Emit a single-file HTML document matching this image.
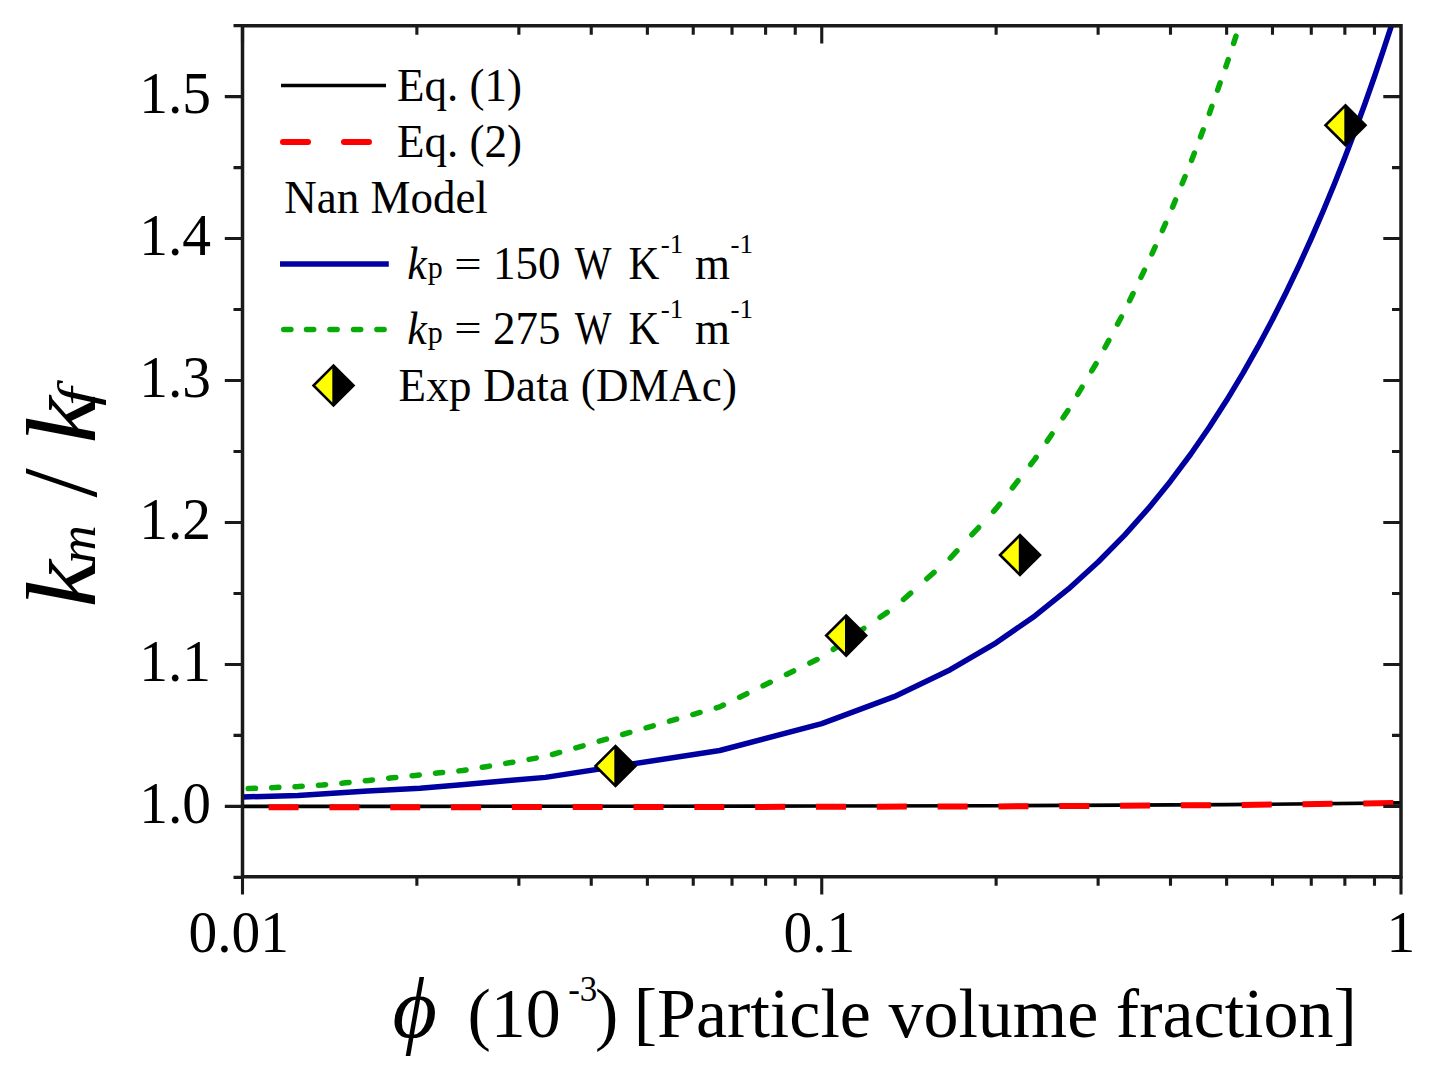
<!DOCTYPE html><html><head><meta charset="utf-8"><style>html,body{margin:0;padding:0;background:#fff;width:1442px;height:1083px;overflow:hidden;position:relative}</style></head><body><svg width="1442" height="1083" viewBox="0 0 1442 1083" style="position:absolute;left:0;top:0;font-family:'Liberation Serif',serif">
<defs><clipPath id="pa"><rect x="242.5" y="25.8" width="1158.5" height="851.0"/></clipPath></defs>
<g clip-path="url(#pa)" fill="none">
<polyline points="242.50,806.36 416.87,806.33 647.38,806.22 821.75,806.05 996.12,805.69 1226.63,804.63 1401.00,802.85" stroke="#000" stroke-width="3.6"/>
<polyline points="242.50,807.21 416.87,807.17 647.38,807.04 821.75,806.83 996.12,806.40 1226.63,805.12 1401.00,802.99" stroke="#ff0000" stroke-width="6" stroke-dasharray="30 30.82" stroke-dashoffset="34.72"/>
<polyline points="242.50,796.90 298.00,795.60 367.70,791.10 420.00,788.30 464.40,784.40 508.80,780.50 545.38,777.38 719.75,750.47 821.75,723.57 894.12,696.66 950.26,669.74 996.12,642.82 1034.90,615.90 1068.49,588.97 1098.12,562.04 1124.63,535.10 1148.60,508.16 1170.49,481.21 1190.63,454.26 1209.27,427.31 1226.63,400.35 1242.86,373.39 1258.12,346.42 1272.49,319.45 1286.10,292.47 1299.00,265.49 1311.27,238.50 1322.98,211.51 1334.16,184.52 1344.86,157.52 1355.13,130.51 1365.00,103.51 1374.49,76.49 1383.64,49.48 1392.47,22.46 1401.00,-4.57" stroke="#0000a0" stroke-width="5.5" stroke-linejoin="round"/>
<path d="M248.25 788.57L255.45 788.29M271.65 787.65L278.85 787.37M295.05 786.73L298.30 786.60L302.25 786.34M318.45 785.25L322.20 785.00L325.65 784.67M341.85 783.14L345.50 782.80L349.05 782.45M365.25 780.85L368.80 780.50L372.45 780.08M388.65 778.20L392.10 777.80L395.85 777.43M412.05 775.83L415.40 775.50L419.25 775.07M435.45 773.24L439.40 772.80L442.65 772.48M458.85 770.88L462.70 770.50L466.05 769.95M482.25 767.31L486.00 766.70L489.45 766.12M505.65 763.41L509.30 762.80L512.85 762.18M529.05 759.35L536.25 758.09M552.45 754.49L559.65 752.44M575.85 747.83L583.05 745.78M599.25 741.16L606.45 739.11M622.65 734.50L629.85 732.45M646.05 727.84L653.25 725.79M669.45 721.18L676.65 719.13M692.85 714.52L700.05 712.47M716.25 707.86L719.75 706.86L723.45 705.06M739.65 697.18L746.85 693.68M763.05 685.80L770.25 682.30M786.45 674.42L793.65 670.92M809.85 663.04L817.05 659.54M833.25 649.37L840.45 644.44M856.65 633.34L863.85 628.41M880.05 617.31L887.25 612.38M903.45 599.44L910.65 593.09M926.85 578.79L934.05 572.43M950.25 558.14L950.26 558.13L956.92 550.94M971.93 534.74L978.60 527.54M993.60 511.34L996.12 508.62L999.63 504.14M1012.33 487.94L1017.97 480.74M1030.67 464.54L1034.90 459.14L1036.12 457.34M1047.13 441.14L1052.02 433.94M1063.03 417.74L1067.92 410.54M1077.70 394.34L1082.02 387.14M1091.73 370.94L1096.05 363.74M1104.96 347.54L1108.82 340.34M1117.52 324.14L1121.38 316.94M1129.56 300.74L1133.06 293.54M1140.93 277.34L1144.43 270.14M1151.98 253.94L1155.17 246.74M1162.36 230.54L1165.56 223.34M1172.57 207.14L1175.51 199.94M1182.13 183.74L1185.07 176.54M1191.61 160.34L1194.34 153.14M1200.47 136.94L1203.19 129.74M1209.32 113.54L1211.86 106.34M1217.57 90.14L1220.11 82.94M1225.82 66.74L1226.63 64.45L1228.25 59.54M1233.60 43.34L1235.97 36.14M1241.32 19.94L1242.86 15.26L1243.65 12.74M1248.67 -3.46L1250.91 -10.66M1255.93 -26.86L1258.12 -33.90L1258.16 -34.06M1262.91 -50.26L1265.01 -57.46M1269.75 -73.66L1271.86 -80.86M1276.38 -97.06L1278.38 -104.26M1282.87 -120.46L1284.86 -127.66M1289.18 -143.86L1291.08 -151.06M1295.34 -167.26L1297.23 -174.46M1301.37 -190.66L1303.17 -197.86M1307.23 -214.06L1309.03 -221.26M1313.00 -237.46L1314.72 -244.66M1318.59 -260.86L1320.31 -268.06M1324.13 -284.26L1325.77 -291.46M1329.47 -307.66L1331.12 -314.86M1334.79 -331.06L1336.36 -338.26M1339.91 -354.46L1341.48 -361.66M1345.02 -377.86L1346.53 -385.06M1349.94 -401.26L1351.45 -408.46M1354.85 -424.66L1355.13 -426.02L1356.31 -431.86M1359.58 -448.06L1361.04 -455.26M1364.31 -471.46L1365.00 -474.89L1365.73 -478.66M1368.88 -494.86L1370.28 -502.06M1373.43 -518.26L1374.49 -523.73L1374.82 -525.46M1377.86 -541.66L1379.21 -548.86M1382.24 -565.06L1383.59 -572.26M1386.53 -588.46L1387.83 -595.66M1390.76 -611.86L1392.06 -619.06M1394.91 -635.26L1396.17 -642.46M1399.01 -658.66L1400.27 -665.86" stroke="#08aa08" stroke-width="5.5" stroke-linecap="round" stroke-linejoin="round"/>
</g>
<g stroke="#1a1a1a" stroke-width="3.5" fill="none" stroke-linecap="butt">
<path d="M242.5 24.05V878.55M1401.0 24.05V878.55M240.75 25.8H1402.75M240.75 876.8H1402.75"/>
<path d="M233.5 877.38H242.5M1392.0 877.38H1401.0M224.8 806.40H242.5M1383.3 806.40H1401.0M233.5 735.42H242.5M1392.0 735.42H1401.0M224.8 664.44H242.5M1383.3 664.44H1401.0M233.5 593.46H242.5M1392.0 593.46H1401.0M224.8 522.48H242.5M1383.3 522.48H1401.0M233.5 451.50H242.5M1392.0 451.50H1401.0M224.8 380.52H242.5M1383.3 380.52H1401.0M233.5 309.54H242.5M1392.0 309.54H1401.0M224.8 238.56H242.5M1383.3 238.56H1401.0M233.5 167.58H242.5M1392.0 167.58H1401.0M224.8 96.60H242.5M1383.3 96.60H1401.0M233.5 25.62H242.5M1392.0 25.62H1401.0M242.50 876.8V894.5M242.50 25.8V43.5M416.87 876.8V885.8M416.87 25.8V34.8M518.87 876.8V885.8M518.87 25.8V34.8M591.24 876.8V885.8M591.24 25.8V34.8M647.38 876.8V885.8M647.38 25.8V34.8M693.24 876.8V885.8M693.24 25.8V34.8M732.02 876.8V885.8M732.02 25.8V34.8M765.61 876.8V885.8M765.61 25.8V34.8M795.24 876.8V885.8M795.24 25.8V34.8M821.75 876.8V894.5M821.75 25.8V43.5M996.12 876.8V885.8M996.12 25.8V34.8M1098.12 876.8V885.8M1098.12 25.8V34.8M1170.49 876.8V885.8M1170.49 25.8V34.8M1226.63 876.8V885.8M1226.63 25.8V34.8M1272.49 876.8V885.8M1272.49 25.8V34.8M1311.27 876.8V885.8M1311.27 25.8V34.8M1344.86 876.8V885.8M1344.86 25.8V34.8M1374.49 876.8V885.8M1374.49 25.8V34.8M1401.00 876.8V894.5" stroke-width="3.1"/>
</g>
<g font-size="57.5" fill="#000">
<text transform="translate(211.00,822.50) scale(1.0,1.035)" text-anchor="end">1.0</text>
<text transform="translate(211.00,680.54) scale(1.0,1.035)" text-anchor="end">1.1</text>
<text transform="translate(211.00,538.58) scale(1.0,1.035)" text-anchor="end">1.2</text>
<text transform="translate(211.00,396.62) scale(1.0,1.035)" text-anchor="end">1.3</text>
<text transform="translate(211.00,254.66) scale(1.0,1.035)" text-anchor="end">1.4</text>
<text transform="translate(211.00,112.70) scale(1.0,1.035)" text-anchor="end">1.5</text>
<text transform="translate(188.50,951.90) scale(1.0,1.035)">0.01</text><text transform="translate(783.50,951.90) scale(1.0,1.035)">0.1</text><text transform="translate(1386.40,951.90) scale(1.0,1.035)">1</text>
</g>
<polygon points="615.5,744.2 637.3,766.0 615.5,787.8 593.7,766.0" fill="#000"/><polygon points="614.3,749.1 614.3,782.9 597.4,766.0" fill="#ffff00"/>
<polygon points="846.2,613.8 868.0,635.6 846.2,657.4 824.4,635.6" fill="#000"/><polygon points="845.0,618.7 845.0,652.5 828.1,635.6" fill="#ffff00"/>
<polygon points="1020.0,533.2 1041.8,555.0 1020.0,576.8 998.2,555.0" fill="#000"/><polygon points="1018.8,538.1 1018.8,571.9 1001.9,555.0" fill="#ffff00"/>
<polygon points="1345.5,103.4 1367.3,125.2 1345.5,147.0 1323.7,125.2" fill="#000"/><polygon points="1344.3,108.3 1344.3,142.1 1327.4,125.2" fill="#ffff00"/>
<g font-size="45" fill="#000">
<path d="M281 85.4H386" stroke="#000" stroke-width="3.5"/>
<text transform="translate(397.00,100.60) scale(1.0,1.045)">Eq. (1)</text>
<path d="M283 142H308M344 142H369" stroke="#ff0000" stroke-width="6" stroke-linecap="round"/>
<text transform="translate(397.00,156.70) scale(1.0,1.045)">Eq. (2)</text>
<text transform="translate(284.20,213.40) scale(1.0,1.045)">Nan Model</text>
<path d="M280 263.9H388.8" stroke="#0000a0" stroke-width="5.5"/>
<path d="M283.7 329.4H290.9M306.5 329.4H313.7M329.9 329.4H337.1M353.5 329.4H360.7M376.9 329.4H384.1" stroke="#08aa08" stroke-width="5.5" stroke-linecap="round"/>
<text transform="translate(407.20,278.70) scale(1.0,1.045)" font-size="44" font-style="italic">k</text><text transform="translate(427.70,277.70) scale(1.0,1.045)" font-size="30">p</text><text transform="translate(454.30,277.50) scale(1.08,0.88)">=</text><text transform="translate(493.00,278.70) scale(1.0,1.045)">150</text><text transform="translate(574.70,278.70) scale(0.865,1.045)">W</text><text transform="translate(628.40,278.70) scale(0.95,1.045)">K</text><text transform="translate(660.70,253.40) scale(1.0,1.045)" font-size="27">-1</text><text transform="translate(695.00,278.70) scale(1.0,1.045)">m</text><text transform="translate(730.40,253.40) scale(1.0,1.045)" font-size="27">-1</text>
<text transform="translate(407.20,343.60) scale(1.0,1.045)" font-size="44" font-style="italic">k</text><text transform="translate(427.70,342.60) scale(1.0,1.045)" font-size="30">p</text><text transform="translate(454.30,342.40) scale(1.08,0.88)">=</text><text transform="translate(493.00,343.60) scale(1.0,1.045)">275</text><text transform="translate(574.70,343.60) scale(0.865,1.045)">W</text><text transform="translate(628.40,343.60) scale(0.95,1.045)">K</text><text transform="translate(660.70,318.30) scale(1.0,1.045)" font-size="27">-1</text><text transform="translate(695.00,343.60) scale(1.0,1.045)">m</text><text transform="translate(730.40,318.30) scale(1.0,1.045)" font-size="27">-1</text>
<polygon points="333.5,363.7 355.3,385.5 333.5,407.3 311.7,385.5" fill="#000"/><polygon points="332.3,368.6 332.3,402.4 315.4,385.5" fill="#ffff00"/>
<text transform="translate(398.60,400.50) scale(1.0,1.045)" letter-spacing="0.25">Exp Data (DMAc)</text>
</g>
<g fill="#000">
<text x="392.4" y="1036.6" font-size="86" font-style="italic">&#x3D5;</text>
<text x="467.4" y="1036.8" font-size="70">(10</text>
<text x="568.2" y="1001.4" font-size="35">-3</text>
<text x="595" y="1036.8" font-size="70">)</text>
<text x="633.8" y="1036.8" font-size="70">[Particle volume fraction]</text>
</g>
<g transform="translate(95,605) rotate(-90)" fill="#000" font-style="italic">
<text transform="translate(-2.6,0) scale(1.07,1)" font-size="100">k</text>
<text x="41.6" y="0" font-size="53">m</text>
<text x="107.5" y="1.2" font-size="105" font-style="normal">/</text>
<text transform="translate(161.5,0) scale(1.07,1)" font-size="100">k</text>
<text transform="translate(199,0) scale(1.25,1)" font-size="53">f</text>
</g>
</svg></body></html>
